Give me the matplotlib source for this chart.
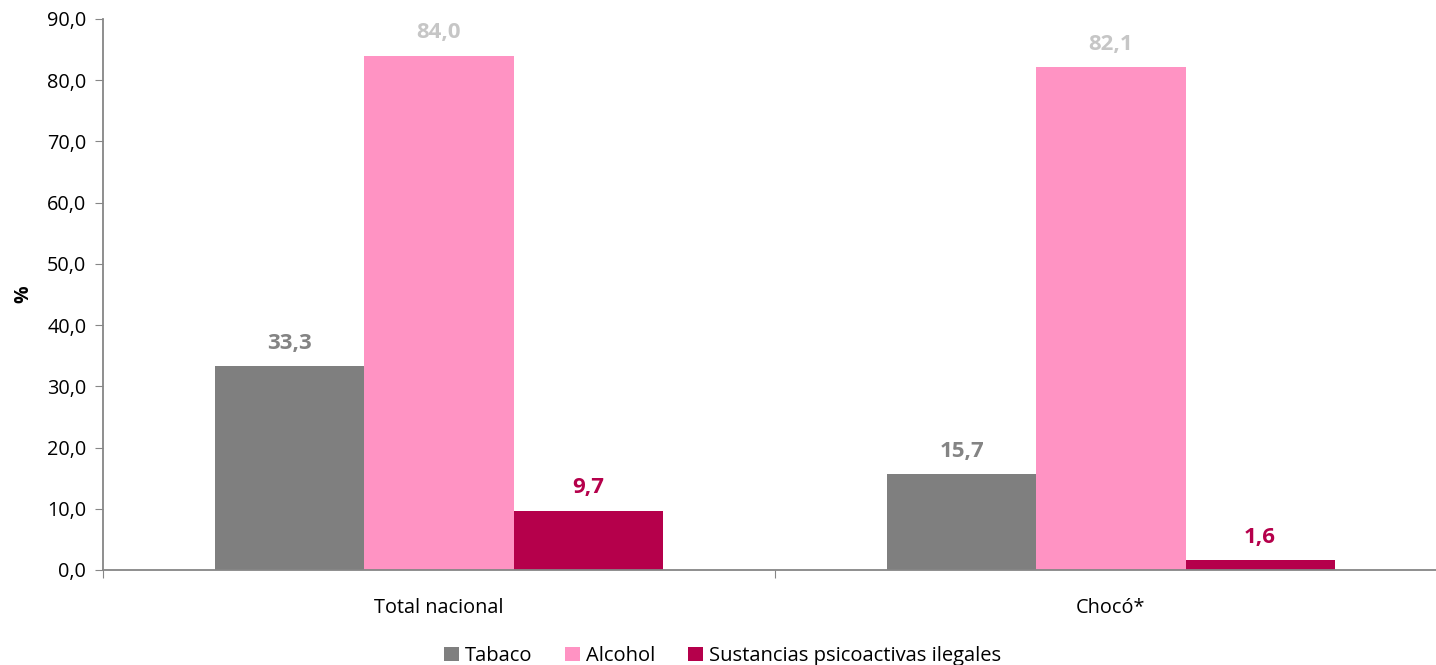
import numpy as np
import matplotlib.pyplot as plt
from matplotlib.ticker import FuncFormatter

plt.rcParams['font.family'] = ['Open Sans', 'DejaVu Sans']

# data
categories = ["Total nacional", "Chocó*"]
series = ["Tabaco", "Alcohol", "Sustancias psicoactivas ilegales"]
tabaco = [33.3, 15.7]
alcohol = [84.0, 82.1]
sustancias = [9.7, 1.6]

colors = ["#7F7F7F", "#FF93C3", "#B5004B"]
label_colors = ["#848484", "#C6C6C6", "#B5004B"]

fig = plt.figure(figsize=(14.36, 6.65), dpi=100)
ax = fig.add_axes([103/1436, 95/665, 1344/1436, 551/665])

x = np.arange(len(categories))
w = 0.222
for i, (name, vals) in enumerate(zip(series, [tabaco, alcohol, sustancias])):
    pos = x + (i - 1) * w
    ax.bar(pos, vals, w, color=colors[i], label=name)
    for p, v in zip(pos, vals):
        ax.text(p, v + 2.0, f"{v:.1f}".replace(".", ","), ha="center", va="bottom",
                fontsize=16, fontweight="bold", color=label_colors[i])

ax.set_xlim(-0.5, 1.5)
ax.set_ylim(0, 90)
ax.set_yticks(np.arange(0, 91, 10))
ax.yaxis.set_major_formatter(FuncFormatter(lambda v, p: f"{v:.1f}".replace(".", ",")))
ax.set_xticks([-0.5, 0.5, 1.5])
ax.set_xticklabels([])
ax.set_xticks(x, minor=True)
ax.set_xticklabels(categories, minor=True)
ax.tick_params(axis="x", which="minor", length=0, pad=20, labelsize=14.3)
ax.tick_params(axis="x", which="major", length=6, color="#868686")
ax.tick_params(axis="y", length=6, color="#868686", labelsize=14.3, pad=6)

for s in ["top", "right"]:
    ax.spines[s].set_visible(False)
for s in ["left", "bottom"]:
    ax.spines[s].set_color("#868686")
    ax.spines[s].set_linewidth(1.3)

ax.set_ylabel("%", fontsize=14, fontweight="bold", labelpad=10)

ax.legend(loc="upper center", bbox_to_anchor=(0.461, -0.105), ncol=3, frameon=False,
          fontsize=14.5, handlelength=0.75, handleheight=0.75, handletextpad=0.3,
          columnspacing=1.6)

fig.savefig("out.png", dpi=100)
